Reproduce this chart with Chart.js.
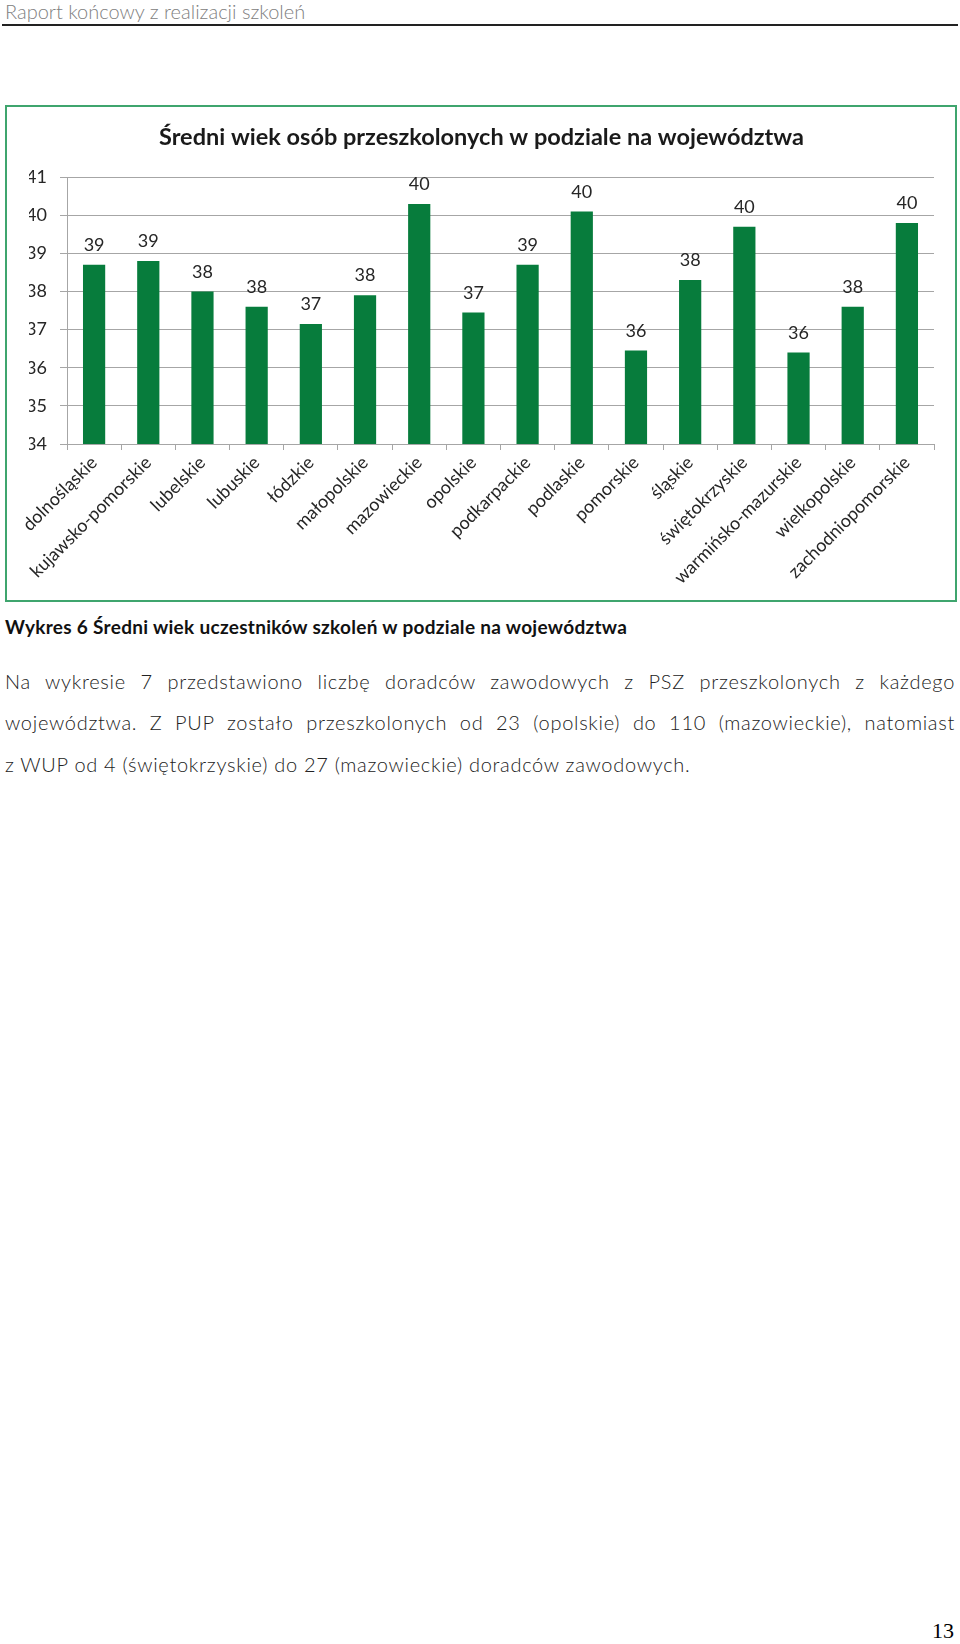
<!DOCTYPE html>
<html lang="pl">
<head>
<meta charset="utf-8">
<title>Średni wiek osób przeszkolonych</title>
<script src="https://cdn.jsdelivr.net/npm/chart.js@4.4.0/dist/chart.umd.min.js"></script>
<style>
    body {
        margin: 0;
        width: 960px;
        height: 1644px;
        background: #fff;
        position: relative;
        font-family: Lato, "Open Sans", sans-serif;
    }
    .naglowek {
        position: absolute;
        left: 5px;
        top: -1px;
        font-size: 20px;
        font-weight: 300;
        color: #808080;
    }
    .kreska {
        position: absolute;
        left: 2px;
        right: 2px;
        top: 24px;
        border-top: 2px solid #222;
    }
    .ramka {
        position: absolute;
        left: 5px;
        top: 105px;
        width: 948px;
        height: 493px;
        border: 2px solid #3fa56e;
    }
    .ramka div {
        position: relative;
        width: 948px;
        height: 493px;
    }
    .podpis {
        position: absolute;
        left: 5px;
        top: 615px;
        font-size: 19px;
        letter-spacing: 0.3px;
        font-weight: bold;
        color: #111;
    }
    .tekst {
        position: absolute;
        left: 5px;
        width: 950px;
        font-size: 20px;
        letter-spacing: 0.7px;
        font-weight: 300;
        color: #222;
    }
    .tekst.pelny {
        text-align: justify;
        text-align-last: justify;
    }
    .strona {
        position: absolute;
        right: 6px;
        top: 1618px;
        font-family: "Liberation Serif", serif;
        font-size: 22px;
        color: #000;
    }
</style>
</head>
<body>
<div class="naglowek">Raport końcowy z realizacji szkoleń</div>
<div class="kreska"></div>

<div class="ramka"><div><canvas id="wykres"></canvas></div></div>

<div class="podpis">Wykres 6 Średni wiek uczestników szkoleń w podziale na województwa</div>

<div class="tekst pelny" style="top:669px">Na wykresie 7 przedstawiono liczbę doradców zawodowych z PSZ przeszkolonych z każdego</div>
<div class="tekst pelny" style="top:710px">województwa. Z PUP zostało przeszkolonych od 23 (opolskie) do 110 (mazowieckie), natomiast</div>
<div class="tekst" style="top:752px">z WUP od 4 (świętokrzyskie) do 27 (mazowieckie) doradców zawodowych.</div>

<div class="strona">13</div>

<script>
// dane
const wojewodztwa = ["dolnośląskie", "kujawsko-pomorskie", "lubelskie", "lubuskie", "łódzkie", "małopolskie",
    "mazowieckie", "opolskie", "podkarpackie", "podlaskie", "pomorskie", "śląskie", "świętokrzyskie",
    "warmińsko-mazurskie", "wielkopolskie", "zachodniopomorskie"];
const sredniWiek = [38.7, 38.8, 38.0, 37.6, 37.15, 37.9, 40.3, 37.45, 38.7, 40.1, 36.45, 38.3, 39.7, 36.4, 37.6, 39.8];
const osYmin = 34;
const osYmax = 41;
const tytul = "Średni wiek osób przeszkolonych w podziale na województwa";

// etykiety nad slupkami
const etykiety = {
    id: 'etykiety',
    afterDatasetsDraw(chart) {
        const ctx = chart.ctx;
        const meta = chart.getDatasetMeta(0);
        ctx.save();
        ctx.font = '18px Lato';
        ctx.fillStyle = '#262626';
        ctx.textAlign = 'center';
        ctx.textBaseline = 'alphabetic';
        meta.data.forEach((slupek, i) => {
            ctx.fillText(sredniWiek[i].toFixed(0), slupek.x, slupek.y - 14);
        });
        ctx.restore();
    }
};

const ctx = document.getElementById('wykres').getContext('2d');
const wykres = new Chart(ctx, {
    type: 'bar',
    data: {
        labels: wojewodztwa,
        datasets: [{
            data: sredniWiek,
            backgroundColor: '#077c3c',
            barPercentage: 0.41,
            categoryPercentage: 1
        }]
    },
    options: {
        responsive: true,
        maintainAspectRatio: false,
        animation: false,
        layout: {
            // lewy margines tak, zeby tytul byl na srodku ramki
            padding: { left: 22, right: 21, top: 0, bottom: 0 }
        },
        plugins: {
            legend: { display: false },
            tooltip: { enabled: false },
            title: {
                display: true,
                text: tytul,
                color: '#1a1a1a',
                font: { family: 'Lato', size: 23.5, weight: 'bold' },
                padding: { top: 16, bottom: 26 }
            }
        },
        scales: {
            y: {
                min: osYmin,
                max: osYmax,
                ticks: {
                    stepSize: 1,
                    color: '#262626',
                    font: { family: 'Lato', size: 18 },
                    padding: 13
                },
                grid: { color: '#a6a6a6', tickLength: 7 },
                border: { color: '#a6a6a6' },
                afterFit(scale) { scale.width = 38; }
            },
            x: {
                ticks: {
                    minRotation: 45,
                    maxRotation: 45,
                    autoSkip: false,
                    color: '#262626',
                    font: { family: 'Lato', size: 18 },
                    padding: 2
                },
                grid: { drawOnChartArea: false, color: '#a6a6a6', tickLength: 6 },
                border: { color: '#a6a6a6' },
                afterFit(scale) { scale.height = 156; }
            }
        }
    },
    plugins: [etykiety]
});
</script>
</body>
</html>
